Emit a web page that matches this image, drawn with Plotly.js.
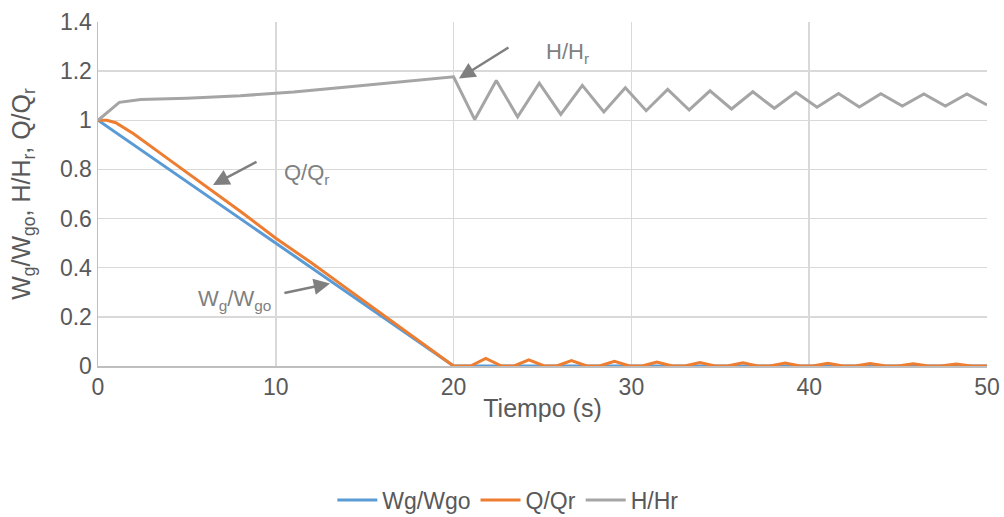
<!DOCTYPE html>
<html><head><meta charset="utf-8">
<script src="https://cdn.plot.ly/plotly-3.0.1.min.js"></script>
<style>html,body{margin:0;padding:0;background:#fff}#chart{width:1004px;height:517px}</style>
</head><body><div id="chart"></div>
<script>
// Wg/Wgo
const wgT = [0, 20, 50];
const wgV = [1, 0, 0];
// Q/Qr
const qT = [0, 0.5, 1, 2, 4, 6, 8, 10, 12, 14, 16, 18, 20,
  20.95, 21.81, 22.7, 23.4, 24.23, 25.1, 25.8, 26.63, 27.5, 28.2, 29.05, 29.9, 30.6, 31.43,
  32.3, 33.0, 33.85, 34.7, 35.4, 36.27, 37.1, 37.8, 38.65, 39.5, 40.2, 41.05, 41.9, 42.6,
  43.43, 44.3, 45.0, 45.85, 46.7, 47.4, 48.27, 49.1, 50];
const qV = [1, 1, 0.99, 0.945, 0.84, 0.735, 0.63, 0.52, 0.42, 0.315, 0.21, 0.105, 0,
  0, 0.031, 0, 0, 0.025, 0, 0, 0.022, 0, 0, 0.019, 0, 0, 0.016,
  0, 0, 0.014, 0, 0, 0.013, 0, 0, 0.012, 0, 0, 0.011, 0, 0,
  0.010, 0, 0, 0.009, 0, 0, 0.008, 0, 0];
// H/Hr
const hT = [0, 1.2, 2.4, 5, 8, 11, 14, 17, 20,
  21.19, 22.4, 23.6, 24.82, 26.03, 27.24, 28.45, 29.66, 30.83, 32.04, 33.25, 34.42,
  35.63, 36.83, 38.04, 39.25, 40.44, 41.65, 42.82, 44.03, 45.24, 46.45, 47.66, 48.87, 50];
const hV = [1, 1.073, 1.085, 1.09, 1.1, 1.115, 1.135, 1.155, 1.177,
  1.003, 1.162, 1.014, 1.151, 1.024, 1.142, 1.034, 1.132, 1.039, 1.126, 1.042, 1.120,
  1.046, 1.116, 1.049, 1.114, 1.053, 1.109, 1.054, 1.108, 1.058, 1.107, 1.058, 1.107, 1.062];

const names = ['Wg/Wgo', 'Q/Qr', 'H/Hr'];
const colors = ['#5b9bd5', '#ed7d31', '#a5a5a5'];
const xTicks = [0, 10, 20, 30, 40, 50];
const yTicks = [0, 0.2, 0.4, 0.6, 0.8, 1, 1.2, 1.4];
const yTickText = ['0', '0.2', '0.4', '0.6', '0.8', '1', '1.2', '1.4'];

const mk = (x, y, i) => ({x: x, y: y, name: names[i], type: 'scatter', mode: 'lines',
  line: {color: colors[i], width: 3}, hoverinfo: 'skip'});
const data = [mk(wgT, wgV, 0), mk(qT, qV, 1), mk(hT, hV, 2)];

const fam = 'Liberation Sans, Arial, sans-serif';
const arrowCol = '#7f7f7f';
const ann = (txt, tx, ty, hx, hy, ax, ay) => [
  {x: hx, y: hy, ax: ax, ay: ay, axref: 'x', ayref: 'y', xref: 'x', yref: 'y', text: '',
   showarrow: true, arrowhead: 2, arrowsize: 1.3, arrowwidth: 2.5, arrowcolor: arrowCol},
  {x: tx, y: ty, xref: 'x', yref: 'y', text: txt, showarrow: false,
   font: {family: fam, size: 22, color: '#808080'}}
];
const annotations = [].concat(
  ann('H/H<sub>r</sub>', 26.4, 1.275, 20.3, 1.17, 23.17, 1.30),
  ann('Q/Q<sub>r</sub>', 11.7, 0.78, 6.47, 0.737, 9.0, 0.834),
  ann('W<sub>g</sub>/W<sub>go</sub>', 7.7, 0.27, 13.05, 0.336, 10.4, 0.296)
);

const layout = {
  width: 1004, height: 517,
  margin: {l: 98, r: 17, t: 22, b: 151},
  paper_bgcolor: '#fff', plot_bgcolor: '#fff',
  font: {family: fam, color: '#595959'},
  showlegend: true,
  legend: {orientation: 'h', x: 0.461, xanchor: 'center', xref: 'paper',
    y: 0.033, yanchor: 'middle', yref: 'container', itemwidth: 40,
    font: {family: fam, size: 23, color: '#595959'}, tracegroupgap: 0},
  xaxis: {range: [0, 50], tickvals: xTicks, ticktext: xTicks.map(String),
    showgrid: true, gridcolor: '#d9d9d9', gridwidth: 1.5, zeroline: false,
    showline: true, linecolor: '#bfbfbf', linewidth: 1.5, ticks: '',
    tickfont: {size: 23, color: '#595959'},
    title: {text: 'Tiempo (s)', font: {size: 25, color: '#595959'}, standoff: 0}},
  yaxis: {range: [0, 1.4], tickvals: yTicks, ticktext: yTickText,
    showgrid: true, gridcolor: '#d9d9d9', gridwidth: 1.5, zeroline: false,
    showline: true, linecolor: '#bfbfbf', linewidth: 1.5, ticks: '',
    tickfont: {size: 23, color: '#595959'},
    title: {text: 'W<sub>g</sub>/W<sub>go</sub>, H/H<sub>r</sub>, Q/Q<sub>r</sub>', font: {size: 25, color: '#595959'}, standoff: 22}},
  annotations: annotations
};
Plotly.newPlot('chart', data, layout, {staticPlot: true, displayModeBar: false});
</script></body></html>
